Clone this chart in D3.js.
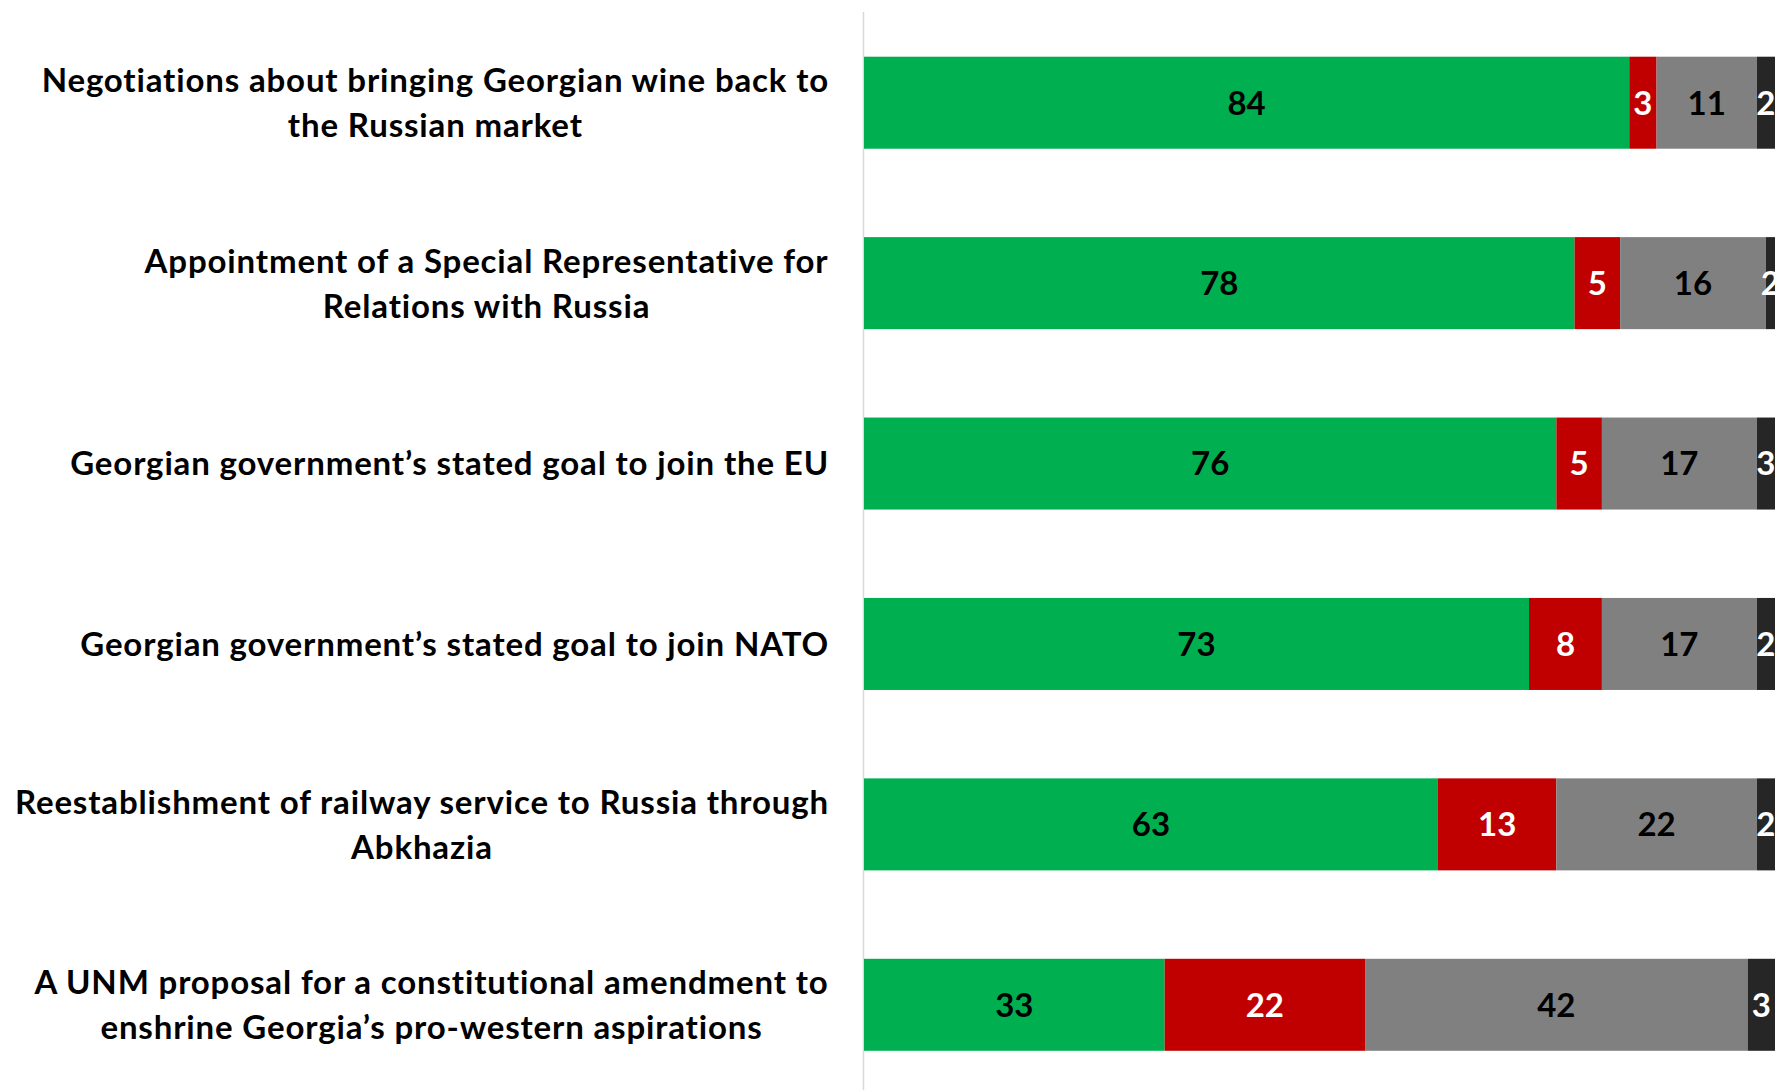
<!DOCTYPE html>
<html>
<head>
<meta charset="utf-8">
<script src="https://cdn.jsdelivr.net/npm/d3@7"></script>
<style>
  html, body { margin: 0; padding: 0; background: #ffffff; overflow: hidden; }
  svg { display: block; }
  text { font-family: Lato, "Open Sans", sans-serif; font-weight: bold; }
</style>
</head>
<body>
<svg id="chart" width="1775" height="1090"></svg>
<script>
const categories = [
  "Negotiations about bringing Georgian wine back to|the Russian market",
  "Appointment of a Special Representative for|Relations with Russia",
  "Georgian government\u2019s stated goal to join the EU",
  "Georgian government\u2019s stated goal to join NATO",
  "Reestablishment of railway service to Russia through|Abkhazia",
  "A UNM proposal for a constitutional amendment to|enshrine Georgia\u2019s pro-western aspirations"
];
const support   = [84, 78, 76, 73, 63, 33];
const oppose    = [3, 5, 5, 8, 13, 22];
const neutral   = [11, 16, 17, 17, 22, 42];
const dontKnow  = [2, 2, 3, 2, 2, 3];
const seriesKeys = ["support", "oppose", "neutral", "dontKnow"];
const seriesColors = ["#00B050", "#C00000", "#808080", "#262626"];
const labelColors = ["#000000", "#ffffff", "#000000", "#ffffff"];

const W = 1775, H = 1090;
const svg = d3.select("#chart");

const rows = categories.map((c, i) => ({
  cat: c, support: support[i], oppose: oppose[i], neutral: neutral[i], dontKnow: dontKnow[i]
}));

const x = d3.scaleLinear().domain([0, 100]).range([864, 1775]).clamp(true);
const y = d3.scaleBand().domain(categories).range([12.5, 1095]).paddingInner(0.49).paddingOuter(0.245);

const stack = d3.stack().keys(seriesKeys);
const stacked = stack(rows);

// axis line
svg.append("line")
  .attr("x1", x(0) - 0.5).attr("x2", x(0) - 0.5)
  .attr("y1", 12).attr("y2", H)
  .attr("stroke", "#D9D9D9").attr("stroke-width", 1.5);

const layers = svg.selectAll("g.layer").data(stacked).enter().append("g")
  .attr("class", "layer")
  .attr("fill", (d, i) => seriesColors[i]);

layers.selectAll("rect").data(d => d).enter().append("rect")
  .attr("x", d => x(d[0]))
  .attr("width", d => x(d[1]) - x(d[0]))
  .attr("y", d => y(d.data.cat))
  .attr("height", y.bandwidth());

stacked.forEach((layer, li) => {
  svg.append("g").selectAll("text").data(layer).enter().append("text")
    .attr("x", d => (x(d[0]) + x(d[1])) / 2)
    .attr("y", d => y(d.data.cat) + y.bandwidth() / 2)
    .attr("dy", "0.36em")
    .attr("text-anchor", "middle")
    .attr("fill", labelColors[li])
    .attr("font-size", 33)
    .text(d => d.data[layer.key]);
});

// category labels (Excel-style: block right aligned, lines centered)
const labelRight = 829;
const lineGap = 45;
categories.forEach(c => {
  const lines = c.split("|");
  const cy = y(c) + y.bandwidth() / 2;
  const g = svg.append("g");
  const texts = lines.map((ln, j) => g.append("text")
    .attr("font-size", 33)
    .attr("letter-spacing", 0.85)
    .attr("fill", "#000")
    .attr("text-anchor", "middle")
    .attr("y", cy + (j - (lines.length - 1) / 2) * lineGap)
    .attr("dy", "0.36em")
    .text(ln));
  const maxW = d3.max(texts, t => t.node().getBBox().width);
  texts.forEach(t => t.attr("x", labelRight - maxW / 2));
});
</script>
</body>
</html>
